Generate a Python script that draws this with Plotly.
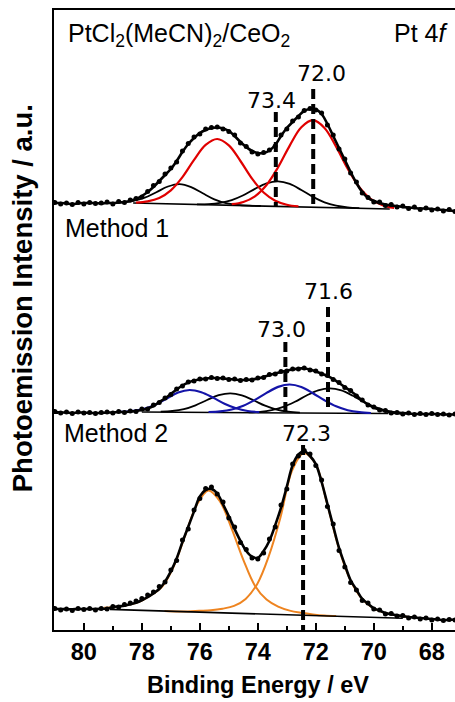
import plotly.graph_objects as go

# ---------------- data (binding energy in eV, intensity in a.u.) ----------------
energy = [81.0, 80.8, 80.6, 80.4, 80.2, 80.0, 79.8, 79.6, 79.4, 79.2,
          79.0, 78.8, 78.6, 78.4, 78.2, 78.0, 77.8, 77.6, 77.4, 77.2,
          77.0, 76.8, 76.6, 76.4, 76.2, 76.0, 75.8, 75.6, 75.4, 75.2,
          75.0, 74.8, 74.6, 74.4, 74.2, 74.0, 73.8, 73.6, 73.4, 73.2,
          73.0, 72.8, 72.6, 72.4, 72.2, 72.0, 71.8, 71.6, 71.4, 71.2,
          71.0, 70.8, 70.6, 70.4, 70.2, 70.0, 69.8, 69.6, 69.4, 69.2,
          69.0, 68.8, 68.6, 68.4, 68.2, 68.0, 67.8, 67.6, 67.4, 67.2]

# Panel 1: PtCl2(MeCN)2/CeO2
p1_envelope = [427, 427, 426.5, 426, 426.5, 427, 427, 427, 426.5, 427,
               427, 427.5, 428, 429, 431, 434, 438, 443, 449, 455,
               461, 469, 478, 486, 492, 497, 500, 502, 502.5, 501.5,
               499, 494, 488, 483, 479, 477, 477, 479.5, 485, 494,
               502, 508, 514, 519, 521, 520.5, 516, 506, 494, 482,
               470, 458, 447, 438, 432, 429, 427, 425.5, 424.5, 424,
               423, 422.5, 422, 421.5, 421.5, 421, 420.5, 420, 419.5, 419]
p1_data = [427.5, 426, 427, 425.5, 427.5, 426, 427.5, 426.5, 427, 428,
           426, 428.5, 427.5, 430, 431.5, 433, 438.5, 444.5, 448.5, 456,
           462, 468, 479, 486.5, 493, 496, 501, 502.5, 503, 501,
           498.5, 495, 487, 483.5, 478, 476, 477.5, 480, 484, 495,
           501, 509, 513, 519.5, 521.5, 520, 517, 505, 495, 481,
           471, 457, 448, 437, 432.5, 428, 428, 424.5, 425.5, 423,
           424, 421.5, 423, 420.5, 422, 420, 421, 419, 420.5, 418.5]
p1_base_x = [78.3, 69.45]
p1_base_y = [427, 421]
p1_red1_x = [78.2, 77.8, 77.4, 77.0, 76.6, 76.2, 75.8, 75.4, 75.0, 74.6, 74.2, 73.8, 73.4, 73.0, 72.6]
p1_red1_y = [427.4, 428.6, 432.0, 439.7, 452.9, 470.1, 485.1, 491.0, 484.6, 469.0, 451.3, 437.5, 429.3, 425.3, 423.6]
p1_red2_x = [74.9, 74.5, 74.1, 73.7, 73.3, 72.9, 72.5, 72.1, 71.7, 71.3, 70.9, 70.5, 70.1, 69.7, 69.3]
p1_red2_y = [425.8, 428.0, 433.7, 445.0, 462.8, 484.4, 502.7, 509.8, 502.1, 483.3, 461.2, 442.8, 430.9, 424.8, 422.0]
p1_blk1_x = [78.7, 78.3, 77.9, 77.5, 77.1, 76.7, 76.3, 75.9, 75.5, 75.1, 74.7, 74.3, 73.9]
p1_blk1_y = [427.6, 429.1, 432.3, 437.8, 443.5, 445.9, 442.9, 436.7, 430.7, 426.9, 425.2, 424.4, 424.0]
p1_blk2_x = [76.1, 75.7, 75.3, 74.9, 74.5, 74.1, 73.7, 73.3, 72.9, 72.5, 72.1, 71.7, 71.3, 70.9, 70.5]
p1_blk2_y = [425.7, 425.9, 427.1, 429.9, 434.7, 441.1, 446.6, 448.6, 446.1, 440.0, 433.1, 427.7, 424.4, 422.7, 421.9]

# Panel 2: Method 1
p2_envelope = [218, 217.5, 217.5, 217, 217.5, 217.5, 217, 217, 217, 217.5,
               217.5, 218, 218, 218.5, 219, 220, 221.5, 224, 228, 231.5,
               236, 240.5, 244.5, 247.5, 249.5, 250.5, 251.5, 252, 252, 251.5,
               251, 250.5, 250, 250, 250.5, 251.5, 253, 255, 256.5, 258,
               259.5, 260.5, 261.5, 261.5, 260.5, 258.5, 256.5, 254, 251, 247,
               243, 239, 234.5, 229.5, 225.5, 222.5, 220.5, 219, 217.5, 217,
               216.5, 216.5, 216, 216, 216, 216, 216, 215.5, 215.5, 215.5]
p2_data = [218.5, 217, 218, 216.5, 218, 217, 217.5, 216.5, 217.5, 218,
           217, 218.5, 217.5, 219, 218.5, 221, 221, 225, 227.5, 232,
           235.5, 241, 244, 248, 249, 251, 251, 252.5, 251.5, 252,
           250.5, 251, 249.5, 250.5, 250, 252, 252.5, 255.5, 256, 258.5,
           259, 261, 261, 262, 260, 259, 256, 254.5, 250.5, 247.5,
           242.5, 239.5, 234, 230, 225, 223, 220, 219.5, 217, 217.5,
           216, 217, 215.5, 216.5, 215.5, 216.5, 215.5, 216, 215, 216]
p2_base_x = [78.0, 69.5]
p2_base_y = [218, 216.5]
p2_blue1_x = [78.75, 78.35, 77.95, 77.55, 77.15, 76.75, 76.35, 75.95, 75.55, 75.15, 74.75, 74.35, 73.95]
p2_blue1_y = [218.2, 219.0, 221.0, 225.1, 231.3, 237.5, 240.0, 237.7, 232.4, 226.3, 221.7, 219.0, 217.8]
p2_blk1_x = [77.35, 76.95, 76.55, 76.15, 75.75, 75.35, 74.95, 74.55, 74.15, 73.75, 73.35, 72.95, 72.55]
p2_blk1_y = [218.3, 219.0, 220.9, 224.7, 230.0, 234.8, 236.7, 234.6, 229.7, 224.3, 220.4, 218.3, 217.4]
p2_blue2_x = [75.7, 75.3, 74.9, 74.5, 74.1, 73.7, 73.3, 72.9, 72.5, 72.1, 71.7, 71.3, 70.9, 70.5, 70.1]
p2_blue2_y = [218.0, 218.7, 220.5, 224.2, 230.1, 237.1, 243.1, 245.5, 243.0, 236.8, 229.7, 223.7, 219.8, 217.8, 217.0]
p2_blk2_x = [74.32, 73.92, 73.52, 73.12, 72.72, 72.32, 71.92, 71.52, 71.12, 70.72, 70.32, 69.92, 69.52, 69.12, 68.72]
p2_blk2_y = [217.6, 218.2, 219.9, 223.1, 228.2, 234.5, 239.7, 241.7, 239.6, 234.2, 227.8, 222.6, 219.2, 217.5, 216.8]

# Panel 3: Method 2
p3_envelope = [21, 21, 20.8, 20.8, 21, 21, 21, 21, 21.2, 21.5,
               22.8, 23.6, 24.3, 25.7, 27.3, 29.7, 32.8, 36.7, 41, 48.4,
               58.6, 71.5, 88, 103.3, 118.6, 133.6, 140, 141, 136.5, 125.7,
               113.7, 100.9, 89.1, 79, 73.3, 72.2, 79.1, 89.3, 104.9, 122.3,
               143.5, 164.7, 175.5, 178.9, 174, 165.9, 148, 126, 103.8, 82.1,
               65.3, 49.7, 40.3, 31.1, 26.3, 21.7, 19.4, 17, 15.7, 14.7,
               13.9, 13, 12.5, 12, 11.5, 11, 10.5, 10, 10, 10.5]
p3_data = [21.5, 20, 21, 19.5, 21.5, 20.5, 21.5, 20, 21.5, 21,
           23.5, 23, 25.5, 27, 29, 31.5, 35, 38, 43.5, 48,
           60, 69.5, 90, 101, 120, 131.5, 141.5, 143, 136, 128,
           112, 103, 87.5, 80.5, 72, 71, 77, 91, 103, 125,
           141, 166, 174, 179.5, 176, 164.5, 150, 123.5, 106, 79.5,
           63, 47.5, 40, 29.5, 27, 21, 20, 16, 16.5, 14,
           14.5, 12, 13, 11, 12, 10, 11, 9.5, 10.5, 10]
p3_base_x = [79.1, 69.0]
p3_base_y = [20.6, 11.7]
p3_or1_x = [79.3, 78.9, 78.5, 78.1, 77.7, 77.3, 76.9, 76.5, 76.1, 75.7, 75.3, 74.9, 74.5, 74.1, 73.7, 73.3, 72.9, 72.5, 72.1, 71.7, 71.3]
p3_or1_y = [22.3, 23.1, 25.0, 28.2, 34.7, 43.4, 63.8, 95.2, 125.4, 139.6, 128.3, 101.1, 70.2, 44.3, 30.4, 23.4, 19.4, 17.2, 15.6, 14.5, 14.0]
p3_or2_x = [77.22, 76.82, 76.42, 76.02, 75.62, 75.22, 74.82, 74.42, 74.02, 73.62, 73.22, 72.82, 72.42, 72.02, 71.62, 71.22, 70.82, 70.42, 70.02, 69.62, 69.22, 68.82]
p3_or2_y = [19.0, 18.6, 18.6, 19.2, 19.8, 21.3, 24.1, 31.1, 46.1, 74.1, 112.6, 159.3, 176.7, 166.7, 127.4, 83.4, 50.6, 31.6, 21.8, 17.1, 14.5, 13.1]

# Peak markers (dashed lines) and their labels
peak_labels = ["73.4", "72.0", "73.0", "71.6", "72.3"]
peak_line_x = [73.38, 72.09, 73.05, 71.58, 72.44]
peak_line_top = [518, 541, 288, 323, 185]
peak_line_bottom = [423, 422, 218, 218, 0]
peak_label_x = [73.53, 71.8, 73.18, 71.58, 72.32]
peak_label_y = [530, 557, 301, 339, 197]

panel_names = ["PtCl<sub>2</sub>(MeCN)<sub>2</sub>/CeO<sub>2</sub>", "Method 1", "Method 2"]
panel_name_x = [80.62, 80.72, 80.77]
panel_name_y = [595, 402, 197]

for arr in (p1_envelope, p1_data, p2_envelope, p2_data, p3_envelope, p3_data):
    assert len(arr) == len(energy)

# ---------------- styles ----------------
RED = "#e00000"
BLUE = "#1414a8"
ORANGE = "#ee8420"
BLACK = "#000000"
SANS = "Liberation Sans, Arial, sans-serif"

fig = go.Figure()


def line(x, y, color, width, shape="spline"):
    fig.add_trace(go.Scatter(x=x, y=y, mode="lines",
                             line=dict(color=color, width=width, shape=shape),
                             showlegend=False, hoverinfo="skip"))


# panel 1
line(p1_base_x, p1_base_y, BLACK, 1.6, "linear")
line(p1_blk1_x, p1_blk1_y, BLACK, 1.8)
line(p1_blk2_x, p1_blk2_y, BLACK, 1.8)
line(p1_red1_x, p1_red1_y, RED, 2.2)
line(p1_red2_x, p1_red2_y, RED, 2.2)
line(energy, p1_envelope, BLACK, 2.6)
# panel 2
line(p2_base_x, p2_base_y, BLACK, 1.6, "linear")
line(p2_blk1_x, p2_blk1_y, BLACK, 1.8)
line(p2_blk2_x, p2_blk2_y, BLACK, 1.8)
line(p2_blue1_x, p2_blue1_y, BLUE, 2.2)
line(p2_blue2_x, p2_blue2_y, BLUE, 2.2)
line(energy, p2_envelope, BLACK, 2.6)
# panel 3
line(p3_or1_x, p3_or1_y, ORANGE, 2.0)
line(p3_or2_x, p3_or2_y, ORANGE, 2.0)
line(p3_base_x, p3_base_y, BLACK, 1.6, "linear")
line(energy, p3_envelope, BLACK, 2.6)

for d in (p1_data, p2_data, p3_data):
    fig.add_trace(go.Scatter(x=energy, y=d, mode="markers",
                             marker=dict(color=BLACK, size=5),
                             showlegend=False, hoverinfo="skip"))

for lx, ytop, ybot in zip(peak_line_x, peak_line_top, peak_line_bottom):
    fig.add_trace(go.Scatter(x=[lx, lx], y=[ytop, ybot], mode="lines",
                             line=dict(color=BLACK, width=4, dash="10px,5px"),
                             showlegend=False, hoverinfo="skip"))

for txt, tx, ty in zip(peak_labels, peak_label_x, peak_label_y):
    fig.add_annotation(x=tx, y=ty, text=txt, showarrow=False,
                       xanchor="center", yanchor="middle",
                       font=dict(family="DejaVu Sans", size=22, color=BLACK))

for txt, tx, ty in zip(panel_names, panel_name_x, panel_name_y):
    fig.add_annotation(x=tx, y=ty, text=txt, showarrow=False,
                       xanchor="left", yanchor="middle",
                       font=dict(family=SANS, size=25, color=BLACK))

fig.add_annotation(x=69.38, y=597, text="Pt 4<i>f</i>", showarrow=False,
                   xanchor="left", yanchor="middle",
                   font=dict(family=SANS, size=25, color=BLACK))

# axis titles
fig.add_annotation(xref="paper", yref="paper", x=0.509, y=-0.088,
                   text="Binding Energy / eV", showarrow=False,
                   xanchor="center", yanchor="middle",
                   font=dict(family=SANS, size=23.5, color=BLACK, weight="bold"))
fig.add_annotation(xref="paper", yref="paper", x=-0.08, y=0.535,
                   text="Photoemission Intensity / a.u.", showarrow=False,
                   textangle=-90, xanchor="center", yanchor="middle",
                   font=dict(family=SANS, size=27.5, color=BLACK, weight="bold"))

fig.update_xaxes(range=[81.03, 67.2], showline=True, linewidth=2, linecolor=BLACK,
                 mirror=True, ticks="inside", ticklen=7, tickwidth=2, tickcolor=BLACK,
                 dtick=2, tick0=0,
                 minor=dict(ticks="inside", ticklen=4, tickwidth=1.5, dtick=1,
                            tick0=0, tickcolor=BLACK, showgrid=False),
                 tickfont=dict(family=SANS, size=23.5, color=BLACK, weight="bold"),
                 showgrid=False, zeroline=False)
fig.update_yaxes(range=[0, 620], showline=True, linewidth=2, linecolor=BLACK,
                 ticks="inside", ticklen=4, tickwidth=1.5, tickcolor=BLACK,
                 tickvals=[427, 217], showticklabels=False,
                 showgrid=False, zeroline=False)

fig.update_layout(width=455, height=702,
                  margin=dict(l=54, r=0, t=10, b=72),
                  plot_bgcolor="white", paper_bgcolor="white",
                  showlegend=False)

fig.write_html("out.html")
